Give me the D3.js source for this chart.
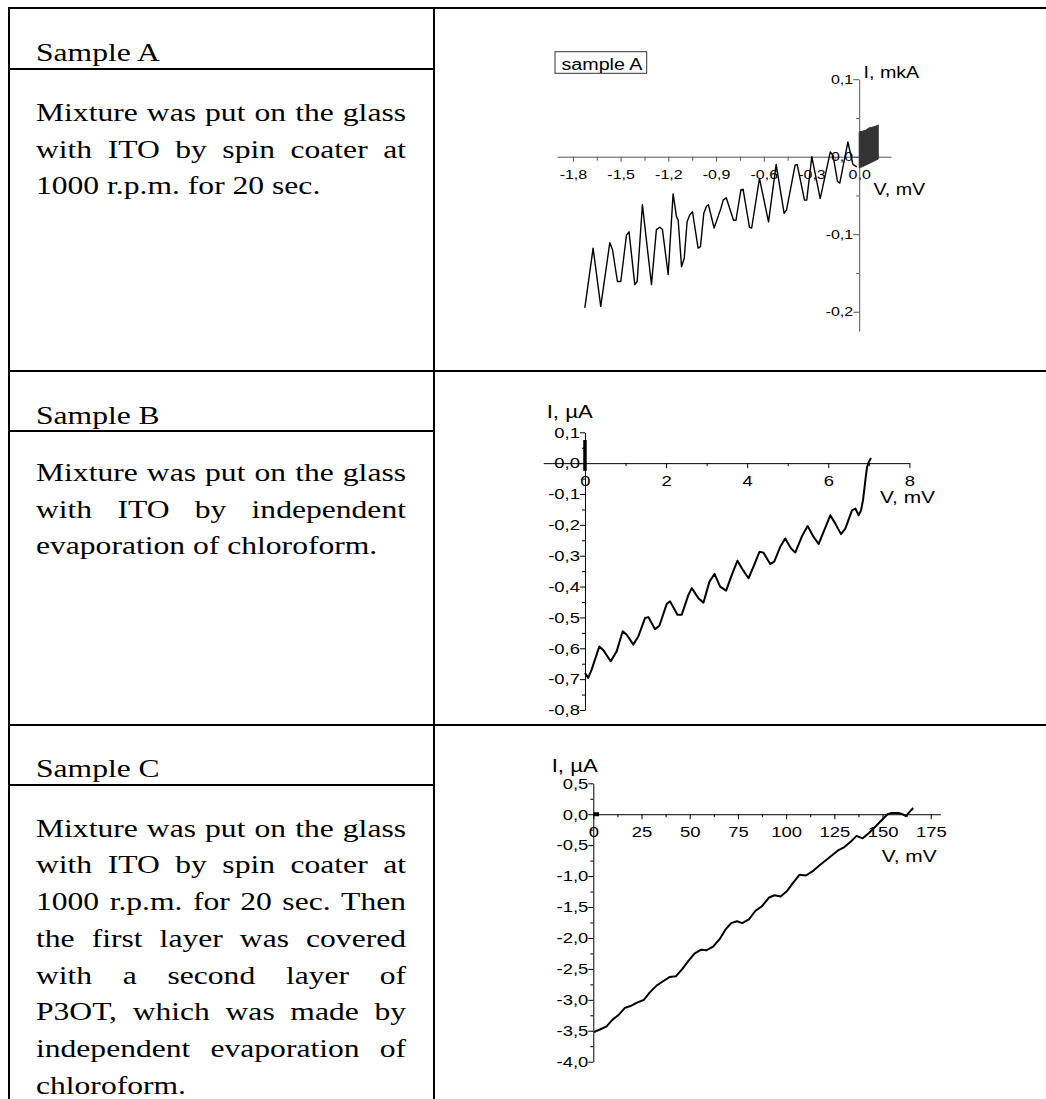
<!DOCTYPE html>
<html><head><meta charset="utf-8">
<script src="https://cdn.jsdelivr.net/npm/d3@7"></script>
<style>body{margin:0;background:#fff}svg{display:block}</style>
</head><body>
<svg id="c" width="1046" height="1099"></svg>
<script>
// ---------- text content ----------
const sampleTitles = ["Sample A", "Sample B", "Sample C"];
const descA = ["Mixture was put on the glass", "with ITO by spin coater at", "1000 r.p.m. for 20 sec."];
const descB = ["Mixture was put on the glass", "with ITO by independent", "evaporation of chloroform."];
const descC = ["Mixture was put on the glass", "with ITO by spin coater at", "1000 r.p.m. for 20 sec. Then",
  "the first layer was covered", "with a second layer of", "P3OT, which was made by",
  "independent evaporation of", "chloroform."];

// ---------- sample A data (V, mV ; I, mkA) ----------
const aV = [-1.725,-1.673,-1.625,-1.568,-1.551,-1.520,-1.499,-1.463,-1.447,-1.411,-1.396,-1.363,-1.306,-1.275,-1.254,-1.237,-1.201,-1.170,-1.149,-1.138,-1.117,-1.100,-1.082,-1.065,-1.048,-1.013,-0.998,-0.977,-0.960,-0.948,-0.912,-0.870,-0.855,-0.836,-0.790,-0.775,-0.744,-0.730,-0.690,-0.676,-0.627,-0.570,-0.522,-0.472,-0.457,-0.403,-0.390,-0.344,-0.330,-0.298,-0.245,-0.182,-0.165,-0.136,-0.122,-0.071,-0.040,-0.015];
const aI = [-0.195,-0.118,-0.193,-0.111,-0.120,-0.161,-0.161,-0.101,-0.097,-0.165,-0.161,-0.062,-0.165,-0.094,-0.091,-0.094,-0.152,-0.048,-0.077,-0.082,-0.142,-0.131,-0.084,-0.075,-0.071,-0.118,-0.116,-0.073,-0.064,-0.062,-0.092,-0.067,-0.056,-0.053,-0.082,-0.082,-0.043,-0.042,-0.091,-0.092,-0.028,-0.084,-0.010,-0.073,-0.069,-0.011,-0.010,-0.056,-0.056,0.000,-0.054,0.006,0.002,-0.032,-0.034,0.019,-0.010,-0.013];
const aBlockV  = [0.0, 0.02, 0.04, 0.06, 0.08, 0.10, 0.12];
const aBlockHi = [0.032, 0.033, 0.034, 0.037, 0.038, 0.039, 0.041];
const aBlockLo = [-0.014, -0.013, -0.011, -0.009, -0.007, -0.005, -0.003];
const aXTicks = [-1.8,-1.5,-1.2,-0.9,-0.6,-0.3,0.0];
const aXMinor = [-1.65,-1.35,-1.05,-0.75,-0.45,-0.15];
const aYTicks = [0.1, 0.0, -0.1, -0.2];
const aYMinor = [0.05, -0.05, -0.15];

// ---------- sample B data (V, mV ; I, uA) ----------
const bV = [0,0.08,0.165,0.354,0.453,0.634,0.782,0.930,1.029,1.193,1.317,1.481,1.564,1.728,1.835,2.016,2.099,2.280,2.387,2.551,2.634,2.798,2.922,3.070,3.193,3.333,3.481,3.621,3.761,3.893,4.033,4.156,4.305,4.403,4.568,4.667,4.815,4.938,5.078,5.185,5.350,5.490,5.638,5.761,5.901,6.049,6.173,6.313,6.420,6.584,6.667,6.749,6.807,6.856,6.914,6.955,6.996,7.053];
const bI = [-0.680,-0.696,-0.669,-0.594,-0.606,-0.642,-0.610,-0.545,-0.556,-0.588,-0.561,-0.502,-0.499,-0.538,-0.527,-0.456,-0.448,-0.491,-0.491,-0.427,-0.405,-0.438,-0.452,-0.384,-0.359,-0.400,-0.413,-0.362,-0.316,-0.346,-0.373,-0.335,-0.287,-0.290,-0.327,-0.319,-0.271,-0.244,-0.276,-0.290,-0.237,-0.204,-0.239,-0.262,-0.217,-0.169,-0.196,-0.230,-0.212,-0.153,-0.147,-0.169,-0.153,-0.120,-0.056,-0.013,0.003,0.017];
const bSpikeV = [0, 0];
const bSpikeI = [0.075, -0.025];
const bXTicks = [0, 2, 4, 6, 8];
const bXMinor = [1, 3, 5, 7];
const bYTicks = [0.1,0.0,-0.1,-0.2,-0.3,-0.4,-0.5,-0.6,-0.7,-0.8];
const bYMinor = [0.05,-0.05,-0.15,-0.25,-0.35,-0.45,-0.55,-0.65,-0.75];

// ---------- sample C data (V, mV ; I, uA) ----------
const cV = [0.34,3.4,6.9,10.0,12.9,16.4,19.3,22.4,26.2,29.3,32.8,36.2,39.7,42.8,46.2,49.1,52.6,56.0,58.6,62.1,65.5,68.4,71.5,74.5,77.2,80.7,84.1,87.4,91.0,94.0,97.1,100.5,103.8,106.9,110.3,113.8,117.2,122.4,126.7,130.2,133.6,136.5,139.7,143.1,146.6,150.0,152.6,154.8,158.3,160.3,162.1,163.8,165.9];
const cI = [-3.52,-3.48,-3.43,-3.32,-3.25,-3.13,-3.10,-3.05,-3.00,-2.88,-2.77,-2.70,-2.63,-2.62,-2.50,-2.38,-2.25,-2.19,-2.20,-2.14,-2.02,-1.87,-1.76,-1.73,-1.76,-1.70,-1.56,-1.49,-1.35,-1.31,-1.33,-1.24,-1.10,-0.98,-0.99,-0.92,-0.83,-0.70,-0.59,-0.53,-0.44,-0.35,-0.39,-0.30,-0.19,-0.08,0.00,0.02,0.02,0.00,-0.03,0.03,0.10];
const cBlobV = [0, 3];
const cBlobI = [0, 0];
const cXTicks = [0,25,50,75,100,125,150,175];
const cXMinor = [12.5,37.5,62.5,87.5,112.5,137.5,162.5];
const cYTicks = [0.5,0.0,-0.5,-1.0,-1.5,-2.0,-2.5,-3.0,-3.5,-4.0];
const cYMinor = [0.25,-0.25,-0.75,-1.25,-1.75,-2.25,-2.75,-3.25,-3.75];

// ---------- drawing ----------
const svg = d3.select("#c");
const SANS = "'Liberation Sans', Arial, sans-serif";
const SERIF = "'Liberation Serif', 'Times New Roman', serif";
const SX = 1.23;   // horizontal stretch of chart texts
const SXT = 1.215; // horizontal stretch of table texts
const loc = d3.formatLocale({decimal: ",", thousands: ".", grouping: [3], currency: ["", ""], minus: "-"});
const f1 = loc.format(".1f"), f0 = loc.format("d");

// table lines
const T = svg.append("g").attr("stroke", "#000").attr("stroke-width", 2);
const hl = (x1, x2, y) => T.append("line").attr("x1", x1).attr("x2", x2).attr("y1", y).attr("y2", y);
const vl = (x, y1, y2) => T.append("line").attr("x1", x).attr("x2", x).attr("y1", y1).attr("y2", y2);
hl(8, 1046, 8); hl(8, 1046, 371); hl(8, 1046, 725);
hl(9, 434, 69); hl(9, 434, 431); hl(9, 434, 785);
vl(9, 7, 1099); vl(434, 7, 1099);

// table text
const TG = svg.append("g").attr("font-family", SERIF).attr("font-size", 26).attr("fill", "#000");
function serifLine(str, x, y) {
  TG.append("text").text(str).attr("transform", `translate(${x},${y}) scale(${SXT},1)`);
}
function para(lines, x0, y0, lh, width) {
  lines.forEach((line, i) => {
    const words = line.split(" ");
    const y = y0 + i * lh;
    const nodes = words.map(w => TG.append("text").text(w));
    const widths = nodes.map(n => n.node().getComputedTextLength() * SXT);
    const justify = i < lines.length - 1 && words.length > 1;
    const gap = justify ? (width - d3.sum(widths)) / (words.length - 1) : 0.25 * 26 * SXT;
    let x = x0;
    nodes.forEach((n, k) => { n.attr("transform", `translate(${x},${y}) scale(${SXT},1)`); x += widths[k] + gap; });
  });
}
serifLine(sampleTitles[0], 36, 61);
serifLine(sampleTitles[1], 36, 423.5);
serifLine(sampleTitles[2], 36, 777);
para(descA, 36, 120.7, 36.8, 370);
para(descB, 36, 480.7, 36.8, 370);
para(descC, 36, 836.7, 36.7, 370);

// chart helper
function chart(o) {
  const g = svg.append("g");
  const x = d3.scaleLinear().domain(o.xd).range(o.xr);
  const y = d3.scaleLinear().domain(o.yd).range(o.yr);
  const x0 = x(0), y0 = y(0);
  const style = sel => { sel.select(".domain").attr("stroke", o.axisColor); sel.selectAll(".tick line").attr("stroke", o.axisColor); };
  // minor ticks
  g.append("g").attr("transform", `translate(0,${y0})`)
    .call(d3.axisBottom(x).tickValues(o.xMinor).tickSize(o.minorX).tickSizeOuter(0).tickFormat(""))
    .call(style).call(s => s.select(".domain").remove());
  g.append("g").attr("transform", `translate(${x0},0)`)
    .call(d3.axisLeft(y).tickValues(o.yMinor).tickSize(o.minorY).tickSizeOuter(0).tickFormat(""))
    .call(style).call(s => s.select(".domain").remove());
  // major axes
  const gx = g.append("g").attr("transform", `translate(0,${y0})`)
    .call(d3.axisBottom(x).tickValues(o.xTicks).tickSize(5).tickPadding(o.xPad).tickSizeOuter(0).tickFormat(o.xFmt))
    .call(style);
  gx.selectAll("text").attr("font-family", SANS).attr("font-size", o.fs).attr("fill", "#000")
    .attr("transform", `scale(${SX},1)`);
  const gy = g.append("g").attr("transform", `translate(${x0},0)`)
    .call(d3.axisLeft(y).tickValues(o.yTicks).tickSize(o.majorY).tickPadding(0).tickSizeOuter(0).tickFormat(o.yFmt))
    .call(style);
  gy.selectAll("text").attr("font-family", SANS).attr("font-size", o.fs).attr("fill", "#000")
    .attr("x", 0).attr("transform", `translate(${-o.majorY},0) scale(${SX},1)`);
  gx.select(".domain").raise();
  // axis titles
  const title = (t, px, py, fs) => g.append("text").text(t).attr("font-family", SANS).attr("font-size", fs)
    .attr("fill", "#000").attr("transform", `translate(${px},${py}) scale(${SX},1)`);
  title(o.yTitle, o.yTitlePos[0], o.yTitlePos[1], o.tfsY);
  title(o.xTitle, o.xTitlePos[0], o.xTitlePos[1], o.tfsX);
  return {g, x, y};
}

// ---- chart A ----
const A = chart({
  xd: [-1.9, 0.2], xr: [557, 891], yd: [-0.225, 0.1], yr: [331.1, 79.2],
  xTicks: aXTicks, xMinor: aXMinor, yTicks: aYTicks, yMinor: aYMinor,
  xFmt: f1, yFmt: f1, fs: 13, xPad: 8.4, majorY: 6, minorX: 4, minorY: 3,
  axisColor: "#555", yTitle: "I, mkA", yTitlePos: [863.5, 78.3], xTitle: "V, mV", xTitlePos: [873.5, 195],
  tfsY: 16, tfsX: 16
});
A.g.append("path").datum(aBlockV.map((v, i) => [v, aBlockHi[i], aBlockLo[i]]))
  .attr("d", d3.area().x(d => A.x(d[0])).y0(d => A.y(d[2])).y1(d => A.y(d[1])))
  .attr("fill", "#333").attr("stroke", "#333").attr("stroke-width", 1);
A.g.append("path").datum(aV.map((v, i) => [v, aI[i]]))
  .attr("d", d3.line().x(d => A.x(d[0])).y(d => A.y(d[1])))
  .attr("fill", "none").attr("stroke", "#000").attr("stroke-width", 1.4).attr("stroke-linejoin", "round");
A.g.append("rect").attr("x", 555).attr("y", 51.7).attr("width", 91.7).attr("height", 21.6)
  .attr("fill", "none").attr("stroke", "#333").attr("stroke-width", 1);
A.g.append("text").text("sample A").attr("font-family", SANS).attr("font-size", 16).attr("fill", "#000")
  .attr("transform", `translate(561.5,70) scale(${SX},1)`);

// ---- chart B ----
const B = chart({
  xd: [-1.03, 8], xr: [543.2, 909.4], yd: [-0.8, 0.1], yr: [710, 432.3],
  xTicks: bXTicks, xMinor: bXMinor, yTicks: bYTicks, yMinor: bYMinor,
  xFmt: f0, yFmt: f1, fs: 15, xPad: 7.6, majorY: 5, minorX: 3, minorY: 3,
  axisColor: "#000", yTitle: "I, \u00b5A", yTitlePos: [546.7, 418.3], xTitle: "V, mV", xTitlePos: [880, 503.3],
  tfsY: 18, tfsX: 17
});
B.g.append("path").datum(bSpikeV.map((v, i) => [v, bSpikeI[i]]))
  .attr("d", d3.line().x(d => B.x(d[0])).y(d => B.y(d[1])))
  .attr("fill", "none").attr("stroke", "#000").attr("stroke-width", 3.5);
B.g.append("path").datum(bV.map((v, i) => [v, bI[i]]))
  .attr("d", d3.line().x(d => B.x(d[0])).y(d => B.y(d[1])))
  .attr("fill", "none").attr("stroke", "#000").attr("stroke-width", 2).attr("stroke-linejoin", "round");

// ---- chart C ----
const C = chart({
  xd: [0, 180], xr: [593.3, 940.4], yd: [-4, 0.5], yr: [1061.7, 783.3],
  xTicks: cXTicks, xMinor: cXMinor, yTicks: cYTicks, yMinor: cYMinor,
  xFmt: f0, yFmt: f1, fs: 15, xPad: 7.6, majorY: 5, minorX: 3, minorY: 3,
  axisColor: "#000", yTitle: "I, \u00b5A", yTitlePos: [551.7, 771.7], xTitle: "V, mV", xTitlePos: [881.7, 861.7],
  tfsY: 18, tfsX: 17
});
C.g.append("path").datum(cBlobV.map((v, i) => [v, cBlobI[i]]))
  .attr("d", d3.line().x(d => C.x(d[0])).y(d => C.y(d[1])))
  .attr("fill", "none").attr("stroke", "#000").attr("stroke-width", 4);
C.g.append("path").datum(cV.map((v, i) => [v, cI[i]]))
  .attr("d", d3.line().x(d => C.x(d[0])).y(d => C.y(d[1])))
  .attr("fill", "none").attr("stroke", "#000").attr("stroke-width", 2).attr("stroke-linejoin", "round");
</script>
</body></html>
